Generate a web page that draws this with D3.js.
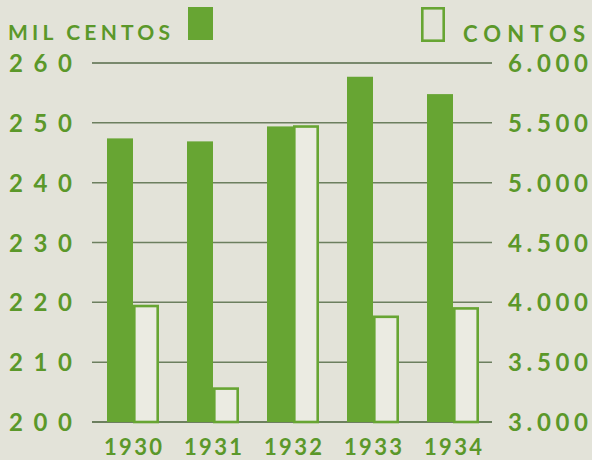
<!DOCTYPE html>
<html>
<head>
<meta charset="utf-8">
<script src="https://cdn.jsdelivr.net/npm/d3@7"></script>
<style>
  html, body { margin: 0; padding: 0; background: #e3e3d9; }
  svg { display: block; }
  text { font-family: Lato, "Open Sans", sans-serif; font-weight: 700; fill: #5b982a; }
</style>
</head>
<body>
<svg id="chart" width="592" height="460"></svg>
<script>
// ---- data ----
const years = ["1930", "1931", "1932", "1933", "1934"];
const milCentos = [247.4, 246.9, 249.4, 257.7, 254.8];   // left axis (mil centos)
const contos = [3980, 3290, 5480, 3890, 3960];           // right axis (contos)
const leftTicks = [200, 210, 220, 230, 240, 250, 260];
const leftLabels = ["200", "210", "220", "230", "240", "250", "260"];
const rightTicks = [3000, 3500, 4000, 4500, 5000, 5500, 6000];
const rightLabels = ["3.000", "3.500", "4.000", "4.500", "5.000", "5.500", "6.000"];
const seriesNames = ["MIL CENTOS", "CONTOS"];

// ---- style ----
const GREEN = "#67a533";
const TEXT = "#5b982a";
const GRID = "#6c7f5f";
const BG = "#e3e3d9";
const INNER = "#ebebe2";

const svg = d3.select("#chart");
svg.append("rect").attr("width", 592).attr("height", 460).attr("fill", BG);

const yL = d3.scaleLinear().domain([200, 260]).range([422, 63]);
const yR = d3.scaleLinear().domain([3000, 6000]).range([422, 63]);
const x = d3.scaleBand().domain(years).range([92, 494]).paddingInner(0.35).paddingOuter(0.1875);
const xs = d3.scaleBand().domain(["mil", "contos"]).range([0, x.bandwidth()]);

// gridlines
const gridX0 = 92, gridX1 = 492;
svg.append("g").selectAll("line").data(leftTicks).join("line")
  .attr("x1", gridX0).attr("x2", gridX1)
  .attr("y1", d => yL(d)).attr("y2", d => yL(d))
  .attr("stroke", d => d === 260 ? "#566b48" : GRID)
  .attr("stroke-width", d => d === 200 ? 2 : 1.5);

// bars
const groups = svg.append("g").selectAll("g").data(years).join("g")
  .attr("transform", d => `translate(${x(d)},0)`);

groups.append("rect")
  .attr("x", xs("mil"))
  .attr("width", xs.bandwidth())
  .attr("y", (d, i) => yL(milCentos[i]))
  .attr("height", (d, i) => yL(200) - yL(milCentos[i]))
  .attr("fill", GREEN);

const sw = 2.6;
groups.append("rect")
  .attr("x", xs("contos") + sw / 2)
  .attr("width", xs.bandwidth() - sw)
  .attr("y", (d, i) => yR(contos[i]) + sw / 2)
  .attr("height", (d, i) => yR(3000) - yR(contos[i]) - sw / 2)
  .attr("fill", INNER)
  .attr("stroke", GREEN)
  .attr("stroke-width", sw);

// left axis
const axL = svg.append("g").attr("transform", "translate(92,0)")
  .call(d3.axisLeft(yL).tickValues(leftTicks).tickSize(0).tickFormat((d, i) => leftLabels[i]));
axL.select(".domain").remove();
axL.selectAll("text")
  .attr("x", -83).attr("dy", "0.36em")
  .attr("text-anchor", "start")
  .attr("textLength", 63).attr("lengthAdjust", "spacing")
  .style("font-size", "24px").style("fill", TEXT);

// right axis
const axR = svg.append("g").attr("transform", "translate(492,0)")
  .call(d3.axisRight(yR).tickValues(rightTicks).tickSize(0).tickFormat((d, i) => rightLabels[i]));
axR.select(".domain").remove();
axR.selectAll("text")
  .attr("x", 96).attr("dy", "0.36em")
  .attr("text-anchor", "end")
  .attr("textLength", 80).attr("lengthAdjust", "spacing")
  .style("font-size", "24px").style("fill", TEXT);

// bottom axis
const axB = svg.append("g").attr("transform", "translate(0,422)")
  .call(d3.axisBottom(x).tickSize(0));
axB.select(".domain").remove();
axB.selectAll("text")
  .attr("y", 33).attr("dy", 0)
  .attr("textLength", 58).attr("lengthAdjust", "spacing")
  .style("font-size", "22px").style("fill", TEXT);

// legend
svg.append("text").attr("x", 8).attr("y", 40)
  .attr("textLength", 162).attr("lengthAdjust", "spacing")
  .style("font-size", "21px").text(seriesNames[0]);
svg.append("rect").attr("x", 188).attr("y", 7).attr("width", 25).attr("height", 33).attr("fill", GREEN);

svg.append("rect").attr("x", 422.3).attr("y", 8.3).attr("width", 21.4).attr("height", 32.4)
  .attr("fill", "none").attr("stroke", GREEN).attr("stroke-width", sw);
svg.append("text").attr("x", 463).attr("y", 42)
  .attr("textLength", 122).attr("lengthAdjust", "spacing")
  .style("font-size", "22px").text(seriesNames[1]);
</script>
</body>
</html>
